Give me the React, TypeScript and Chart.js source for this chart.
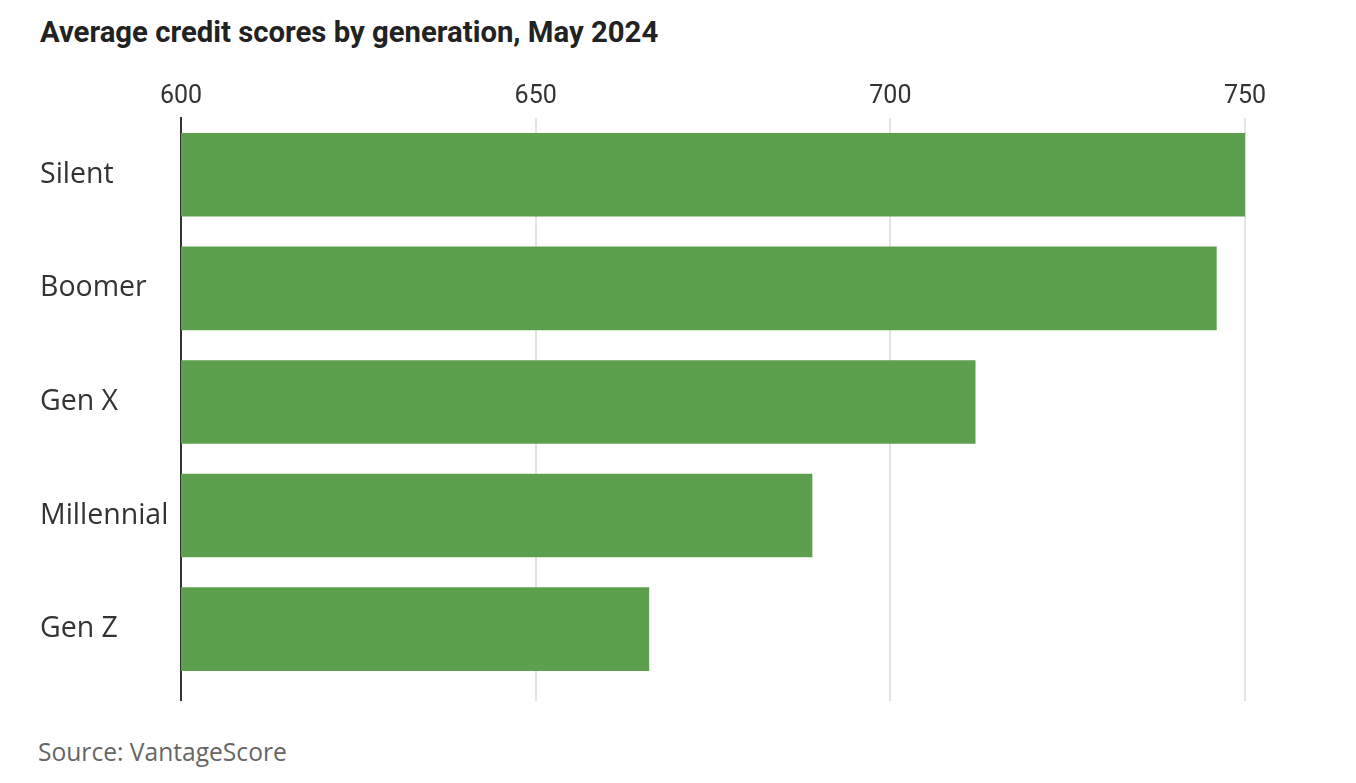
import React, { useEffect, useRef } from "react";
import { Chart, registerables } from "chart.js";

Chart.register(...registerables);

const generations = ["Silent", "Boomer", "Gen X", "Millennial", "Gen Z"];
const avgScores = [750, 746, 712, 689, 666];
const tickValues = [600, 650, 700, 750];

const TITLE = "Average credit scores by generation, May 2024";
const SOURCE = "Source: VantageScore";

const NARROW = "'Liberation Sans Narrow', 'Roboto', sans-serif";
const SANS = "'Open Sans', 'Noto Sans', sans-serif";

export default function App() {
  const ref = useRef<HTMLCanvasElement | null>(null);

  useEffect(() => {
    if (!ref.current) return;
    const gridColor = (ctx: any) => (ctx.tick && ctx.tick.value === 600 ? "#333333" : "#e4e4e4");
    const chart = new Chart(ref.current, {
      type: "bar",
      data: {
        labels: generations,
        datasets: [
          {
            data: avgScores,
            backgroundColor: "#5c9f4c",
            borderWidth: 0,
            categoryPercentage: 1,
            barPercentage: 0.736,
            xAxisID: "x",
          },
        ],
      },
      options: {
        indexAxis: "y",
        animation: false,
        responsive: false,
        devicePixelRatio: 1,
        layout: { padding: 0 },
        plugins: { legend: { display: false }, tooltip: { enabled: false }, title: { display: false } },
        scales: {
          x: {
            type: "linear",
            position: "top",
            min: 600,
            max: 760,
            afterBuildTicks: (s: any) => {
              s.ticks = tickValues.map((v) => ({ value: v }));
            },
            ticks: {
              stepSize: 50,
              includeBounds: false,
              padding: 6,
              color: "#333333",
              font: { family: NARROW, size: 25 },
            },
            grid: { color: gridColor, lineWidth: 2, drawTicks: false },
            border: { display: false },
            afterFit: (s: any) => {
              s.height = 58;
            },
          },
          x2: {
            type: "linear",
            position: "bottom",
            min: 600,
            max: 760,
            afterBuildTicks: (s: any) => {
              s.ticks = tickValues.map((v) => ({ value: v }));
            },
            ticks: { display: false, stepSize: 50 },
            grid: { color: gridColor, lineWidth: 2, drawOnChartArea: false, drawTicks: true, tickLength: 15 },
            border: { display: false },
            afterFit: (s: any) => {
              s.height = 15;
            },
          },
          y: {
            type: "category",
            position: "left",
            z: 1,
            ticks: {
              crossAlign: "far",
              padding: 0,
              color: "#333333",
              font: { family: SANS, size: 28.5 },
            },
            grid: { display: false },
            border: { display: true, color: "#333333", width: 2 },
            afterFit: (s: any) => {
              s.width = 141;
            },
          },
        },
      },
    });
    return () => chart.destroy();
  }, []);

  return (
    <div style={{ position: "relative", width: 1340, height: 760 }}>
      <div
        style={{
          position: "absolute",
          left: 32,
          top: 7,
          fontFamily: NARROW,
          fontWeight: 700,
          fontSize: 29.3,
          lineHeight: "34px",
          color: "#222222",
          whiteSpace: "nowrap",
        }}
      >
        {TITLE}
      </div>
      <canvas
        ref={ref}
        width={1276}
        height={643}
        style={{ position: "absolute", left: 32, top: 52, width: 1276, height: 643 }}
      />
      <div
        style={{
          position: "absolute",
          left: 30,
          top: 729,
          fontFamily: SANS,
          fontSize: 24.6,
          lineHeight: "30px",
          color: "#666666",
          whiteSpace: "nowrap",
        }}
      >
        {SOURCE}
      </div>
    </div>
  );
}
